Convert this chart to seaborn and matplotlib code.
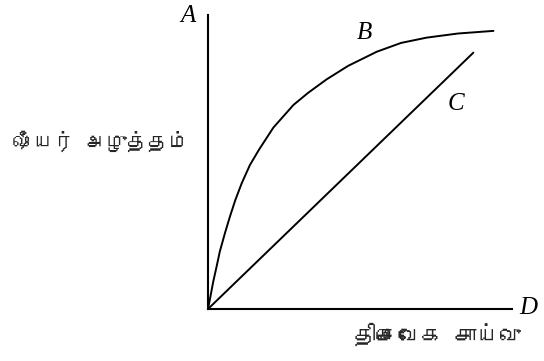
import numpy as np
import pandas as pd
import matplotlib
matplotlib.use("Agg")
import matplotlib.pyplot as plt
from matplotlib import font_manager
from matplotlib.ft2font import FT2Font
import seaborn as sns

# curve B (non-Newtonian) and line C (Newtonian)
b_x = [0, 0.07, 0.17, 0.28, 0.39, 0.56, 0.72, 0.90, 1.11, 1.38, 1.69, 2.15, 2.81,
       3.29, 3.90, 4.61, 5.55, 6.35, 7.19, 8.22, 9.39]
b_y = [0, 0.37, 0.92, 1.43, 1.96, 2.59, 3.14, 3.71, 4.28, 4.90, 5.44, 6.17, 6.94,
       7.35, 7.81, 8.27, 8.75, 9.05, 9.23, 9.37, 9.46]
c_x = [0, 8.73]
c_y = [0, 8.72]

y_label = "ஷீயர் அழுத்தம்"
x_label = "திசைவேக சாய்வு"


def find_tamil_font():
    for f in font_manager.fontManager.ttflist:
        try:
            cmap = FT2Font(f.fname).get_charmap()
        except Exception:
            continue
        if 0x0BA4 in cmap and 0x0BB7 in cmap:
            return f.name
    return None


sns.set_style("white")
tamil = find_tamil_font()
plt.rcParams['font.family'] = [tamil, 'DejaVu Sans'] if tamil else ['DejaVu Sans']

fig = plt.figure(figsize=(5.44, 3.61), dpi=100)
ax = fig.add_axes([208 / 544, 1 - 309 / 361, 304 / 544, 294 / 361])

df_b = pd.DataFrame({"x": b_x, "y": b_y})
df_c = pd.DataFrame({"x": c_x, "y": c_y})
sns.lineplot(data=df_b, x="x", y="y", ax=ax, color="black", lw=1.4, sort=False,
             solid_joinstyle="round", solid_capstyle="round")
sns.lineplot(data=df_c, x="x", y="y", ax=ax, color="black", lw=1.4, sort=False)

ax.set_xlim(0, 10)
ax.set_ylim(0, 10)
ax.set_xticks([])
ax.set_yticks([])
ax.set_xlabel("")
ax.set_ylabel("")
sns.despine(ax=ax)
for s in ("left", "bottom"):
    ax.spines[s].set_linewidth(1.5)
    ax.spines[s].set_color("black")

serif = dict(family="Liberation Serif", style="italic", fontsize=18, color="black")
ax.text(-0.66, 9.97, "A", ha="center", va="center", **serif)
ax.text(10.53, 0.03, "D", ha="center", va="center", **serif)
ax.text(5.13, 9.39, "B", ha="center", va="center", **serif)
ax.text(8.14, 6.97, "C", ha="center", va="center", **serif)

fig.text(101 / 544, 1 - 141 / 361, y_label, ha="center", va="center",
         fontsize=15, fontweight="bold")
fig.text(437 / 544, 1 - 334 / 361, x_label, ha="center", va="center",
         fontsize=16, fontweight="bold")

fig.savefig("out.png", dpi=100)
